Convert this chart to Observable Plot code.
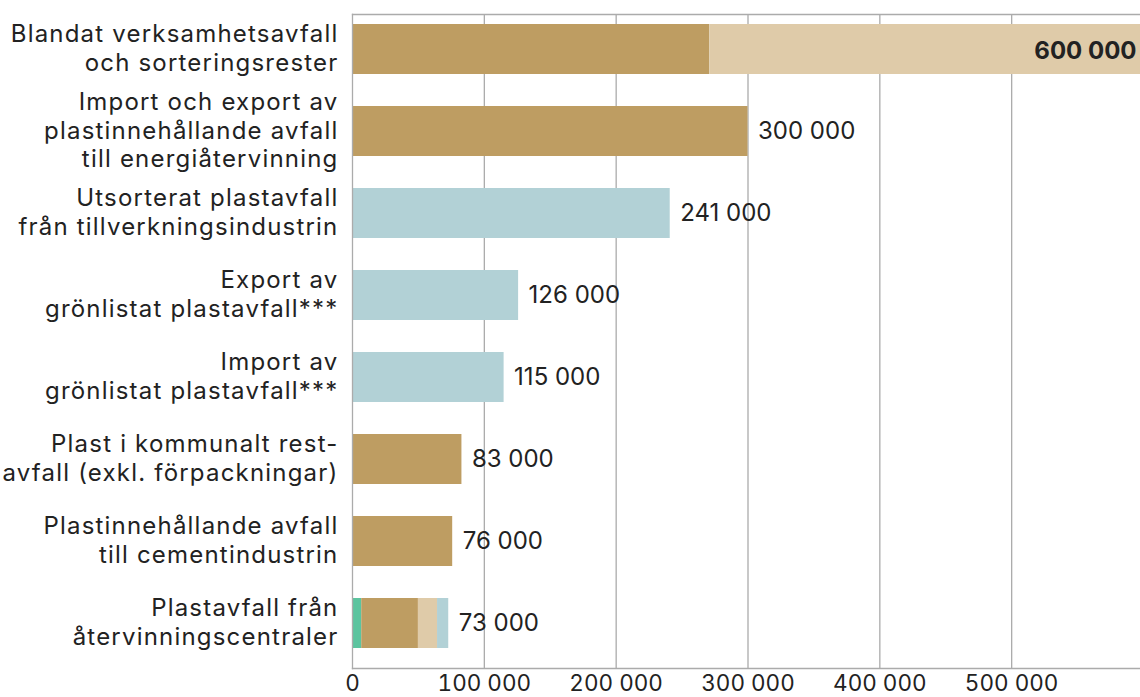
<!DOCTYPE html>
<html><head><meta charset="utf-8">
<script src="https://cdn.jsdelivr.net/npm/d3@7"></script>
<script src="https://cdn.jsdelivr.net/npm/@observablehq/plot@0.6"></script>
<style>
body { margin: 0; background: #fff; }
.ylab text { letter-spacing: 1.2px; }
</style>
</head>
<body>
<div id="chart"></div>
<script>
const categories = [
  "Blandat verksamhetsavfall\noch sorteringsrester",
  "Import och export av\nplastinnehållande avfall\ntill energiåtervinning",
  "Utsorterat plastavfall\nfrån tillverkningsindustrin",
  "Export av\ngrönlistat plastavfall***",
  "Import av\ngrönlistat plastavfall***",
  "Plast i kommunalt rest-\navfall (exkl. förpackningar)",
  "Plastinnehållande avfall\ntill cementindustrin",
  "Plastavfall från\nåtervinningscentraler"
];
const totals    = [600000, 300000, 241000, 126000, 115000, 83000, 76000, 73000];
const segGreen  = [0, 0, 0, 0, 0, 0, 0, 7000];
const segDark   = [271000, 300000, 0, 0, 0, 83000, 76000, 43000];
const segLight  = [329000, 0, 0, 0, 0, 0, 0, 14500];
const segBlue   = [0, 0, 241000, 126000, 115000, 0, 0, 8500];
const segTypes  = ["green", "dark", "light", "blue"];
const segColors = ["#5cc49f", "#be9d62", "#dfcba9", "#b2d1d6"];
const xTicks    = [0, 100000, 200000, 300000, 400000, 500000];

const segs = [segGreen, segDark, segLight, segBlue];
const table = [];
categories.forEach((c, i) => {
  segTypes.forEach((t, j) => {
    if (segs[j][i] > 0) table.push({category: c, type: t, value: segs[j][i]});
  });
});
const totalRows = categories.map((c, i) => ({category: c, total: totals[i], i}));

const fmt = d3.formatLocale({thousands: " ", grouping: [3], decimal: ","}).format(",d");
const font = "Inter, Roboto, sans-serif";

const chart = Plot.plot({
  width: 1140,
  height: 697,
  marginLeft: 352,
  marginRight: 0,
  marginTop: 14,
  marginBottom: 29,
  style: {fontFamily: font, color: "#222", background: "#fff"},
  x: {domain: [0, 600000], range: [352, 1143]},
  y: {type: "band", domain: categories, range: [7.1, 664.5], paddingInner: 0.39, paddingOuter: 0.2},
  color: {domain: segTypes, range: segColors},
  marks: [
    Plot.ruleX(xTicks.slice(1), {x: d => d, stroke: "#ababab", strokeWidth: 1.3}),
    Plot.barX(table, Plot.stackX({y: "category", x: "value", fill: "type", order: null})),
    Plot.text(totalRows.filter(d => d.i > 0), {
      y: "category", x: "total", text: d => fmt(d.total),
      textAnchor: "start", dx: 10, fontSize: 24, fill: "#222"
    }),
    Plot.text(totalRows.filter(d => d.i === 0), {
      y: "category", x: "total", text: d => fmt(d.total),
      textAnchor: "end", dx: -7, dy: 1.5, fontSize: 24, fontWeight: "bold", fill: "#222"
    }),
    Plot.frame({anchor: "top", stroke: "#ababab", strokeWidth: 1.3}),
    Plot.frame({anchor: "bottom", stroke: "#ababab", strokeWidth: 1.3}),
    Plot.frame({anchor: "left", stroke: "#ababab", strokeWidth: 1.3}),
    Plot.axisX({
      ticks: xTicks, tickSize: 0, tickPadding: 6.5, fontSize: 22.5,
      tickFormat: fmt, label: null, fill: "#222"
    }),
    Plot.axisY({
      tickSize: 0, tickPadding: 14, fontSize: 24, lineHeight: 1.17,
      label: null, fill: "#222", className: "ylab", dy: -2
    })
  ]
});
document.getElementById("chart").appendChild(chart);
</script>
</body></html>
